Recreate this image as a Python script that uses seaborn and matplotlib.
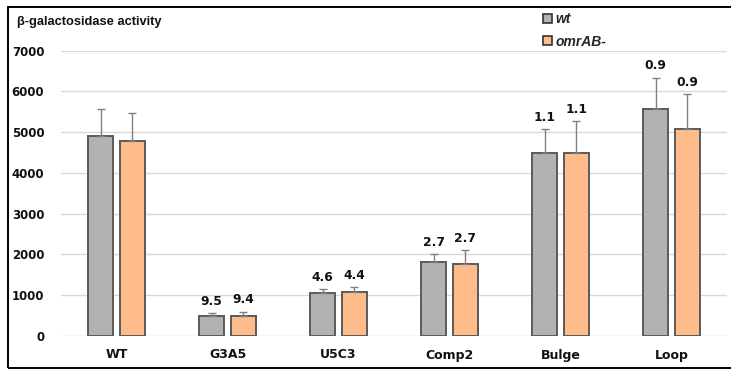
import matplotlib
matplotlib.use("Agg")
import matplotlib.pyplot as plt
from matplotlib.patches import Patch, Rectangle
import numpy as np
import pandas as pd
import seaborn as sns

# Reporter activity per construct, two strains
constructs = ["WT", "G3A5", "U5C3", "Comp2", "Bulge", "Loop"]
strains = ["wt", "omrAB-"]
wt_activity = [4900, 500, 1050, 1820, 4500, 5580]
omr_activity = [4780, 490, 1070, 1760, 4480, 5080]
wt_sd = [670, 60, 100, 190, 570, 760]
omr_sd = [680, 100, 120, 340, 790, 850]
wt_fold = ["", "9.5", "4.6", "2.7", "1.1", "0.9"]
omr_fold = ["", "9.4", "4.4", "2.7", "1.1", "0.9"]
y_ticks = [0, 1000, 2000, 3000, 4000, 5000, 6000, 7000]

df = pd.DataFrame({
    "construct": constructs * 2,
    "strain": [strains[0]] * len(constructs) + [strains[1]] * len(constructs),
    "activity": wt_activity + omr_activity,
    "sd": wt_sd + omr_sd,
    "fold": wt_fold + omr_fold,
})

sns.set_theme(style="white")
W, H = 731, 370
fig = plt.figure(figsize=(W / 100, H / 100), dpi=100)
ax = fig.add_axes([61 / W, 1 - 336 / H, (727 - 61) / W, (336 - 50.7) / H])

palette = {"wt": "#b2b2b2", "omrAB-": "#ffbc8b"}
sns.barplot(data=df, x="construct", y="activity", hue="strain", order=constructs,
            hue_order=strains, palette=palette, errorbar=None, width=0.572, gap=0.21,
            edgecolor="#5a5a5a", linewidth=1.4, saturation=1, legend=False, ax=ax)

# one-sided error bars and fold-change labels above each bar
bars = [p for p in ax.patches if p.get_height() > 0]
bars.sort(key=lambda p: p.get_x())
val_font = dict(family="DejaVu Sans", weight="bold", size=8.8, color="#111111")
for i, c in enumerate(constructs):
    for j, s in enumerate(strains):
        row = df[(df.construct == c) & (df.strain == s)].iloc[0]
        p = bars[2 * i + j]
        xc = p.get_x() + p.get_width() / 2
        ax.errorbar(xc, row.activity, yerr=[[0], [row.sd]], color="#808080",
                    elinewidth=1.0, capsize=3, capthick=1.0, zorder=3)
        if row.fold:
            ax.annotate(row.fold, (xc, row.activity + row.sd), xytext=(0, 4),
                        textcoords="offset points", ha="center", va="bottom",
                        **val_font)

ax.set_ylim(0, 7000)
ax.set_xlim(-0.5, len(constructs) - 0.5)
ax.set_yticks(y_ticks)
ax.set_yticklabels([str(v) for v in y_ticks])
ax.yaxis.grid(True, color="#d9d9d9", linewidth=1.0)
ax.set_axisbelow(True)
for sp in ax.spines.values():
    sp.set_visible(False)
ax.tick_params(axis="y", length=0, pad=12)
ax.tick_params(axis="x", length=0, pad=9)
for lab in ax.get_yticklabels():
    lab.set_fontfamily("DejaVu Sans")
    lab.set_fontweight("bold")
    lab.set_fontsize(8.5)
    lab.set_color("#111111")
for lab in ax.get_xticklabels():
    lab.set_fontfamily("DejaVu Sans")
    lab.set_fontweight("bold")
    lab.set_fontsize(9)
    lab.set_color("#111111")
ax.set_xlabel("")
ax.set_ylabel("")

fig.text(17 / W, 1 - 25 / H, "β-galactosidase activity", family="Liberation Sans",
         weight="bold", size=9.3, color="#111111", va="baseline", ha="left")

handles = [Patch(facecolor=palette[s], edgecolor="#333333", linewidth=1.2, label=s)
           for s in strains]
fig.legend(handles=handles, loc="upper left", bbox_to_anchor=(543 / W, 1 - 12 / H),
           frameon=False, handlelength=0.62, handleheight=0.62, handletextpad=0.3,
           labelspacing=0.62, borderpad=0, borderaxespad=0,
           prop=dict(family="Liberation Sans", weight="bold", style="italic", size=10))

# outer frame
fig.add_artist(Rectangle((8 / W, 2 / H), 1.0, 1 - 9 / H, transform=fig.transFigure,
                         fill=False, edgecolor="black", linewidth=1.4, clip_on=False))

fig.savefig("out.png", dpi=100)
